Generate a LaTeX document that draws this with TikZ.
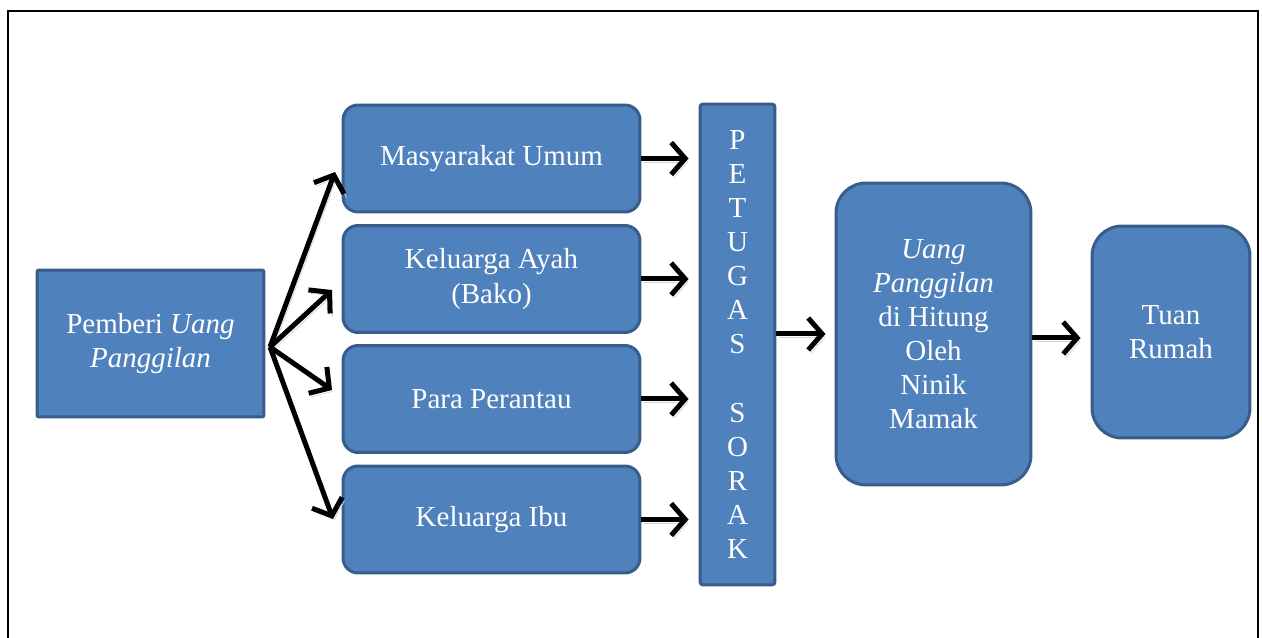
\documentclass[tikz,border=0pt]{standalone}
\usepackage{fontspec}
\setmainfont{Liberation Serif}
\usetikzlibrary{arrows.meta, positioning, calc}
\definecolor{flowFill}{HTML}{4F81BD}
\definecolor{flowLine}{HTML}{385D8A}

\begin{document}
\begin{tikzpicture}[
  x=0.02cm, y=-0.02cm,
  font=\fontsize{16.5}{19.4}\selectfont,
  box/.style={draw=flowLine, fill=flowFill, line width=0.06cm, text=white,
              align=center, inner sep=2pt},
  member/.style={box, rounded corners=0.3cm, minimum width=5.94cm, minimum height=2.14cm},
  tall/.style={box, rounded corners=0.6cm},
  a/.style={-{Straight Barb[length=2.8mm, width=6.4mm]}, line width=0.1cm,
            preaction={draw=black!18, transform canvas={shift={(0.05cm,-0.07cm)}}}}
]
\useasboundingbox (0,0) rectangle (1262,638);
\draw[line width=0.05cm] (8,638) -- (8,11) -- (1258,11) -- (1258,638);

\node[box, rounded corners=0.04cm, minimum width=4.54cm, minimum height=2.94cm] (giver) at (150.5,343.5)
  {Pemberi \textit{Uang}\\\textit{Panggilan}};
\node[member] (umum) at (491.5,158.5) {Masyarakat Umum};
\node[member] (ayah) at (491.5,279) {Keluarga Ayah\\(Bako)};
\node[member] (rantau) at (491.5,399) {Para Perantau};
\node[member] (ibu) at (491.5,519.5) {Keluarga Ibu};
\node[box, rounded corners=0.06cm, minimum width=1.5cm, minimum height=9.62cm] (sorak) at (737.5,344.5)
  {P\\E\\T\\U\\G\\A\\S\\\mbox{}\\S\\O\\R\\A\\K};
\node[tall, minimum width=3.9cm, minimum height=6.04cm] (hitung) at (933.5,334)
  {\textit{Uang}\\\textit{Panggilan}\\di Hitung\\Oleh\\Ninik\\Mamak};
\node[tall, minimum width=3.16cm, minimum height=4.24cm] (tuan) at (1171,332) {Tuan\\Rumah};

\coordinate (fan) at (270,347);
\coordinate (t1) at (335,172);
\coordinate (t2) at (332,290);
\coordinate (t3) at (332,390);
\coordinate (t4) at (333,519);
\foreach \t in {t1,t2,t3,t4}
  \draw[a] (fan) -- (\t);

\foreach \n in {umum,ayah,rantau,ibu}
  \draw[a, shorten >=0.2cm] (\n) -- (\n -| sorak.west);
\draw[a, shorten >=0.18cm] (sorak.east |- hitung) -- (hitung.west);
\draw[a, shorten >=0.2cm] (hitung.east |- 0,338) -- (tuan.west |- 0,338);
\end{tikzpicture}
\end{document}
